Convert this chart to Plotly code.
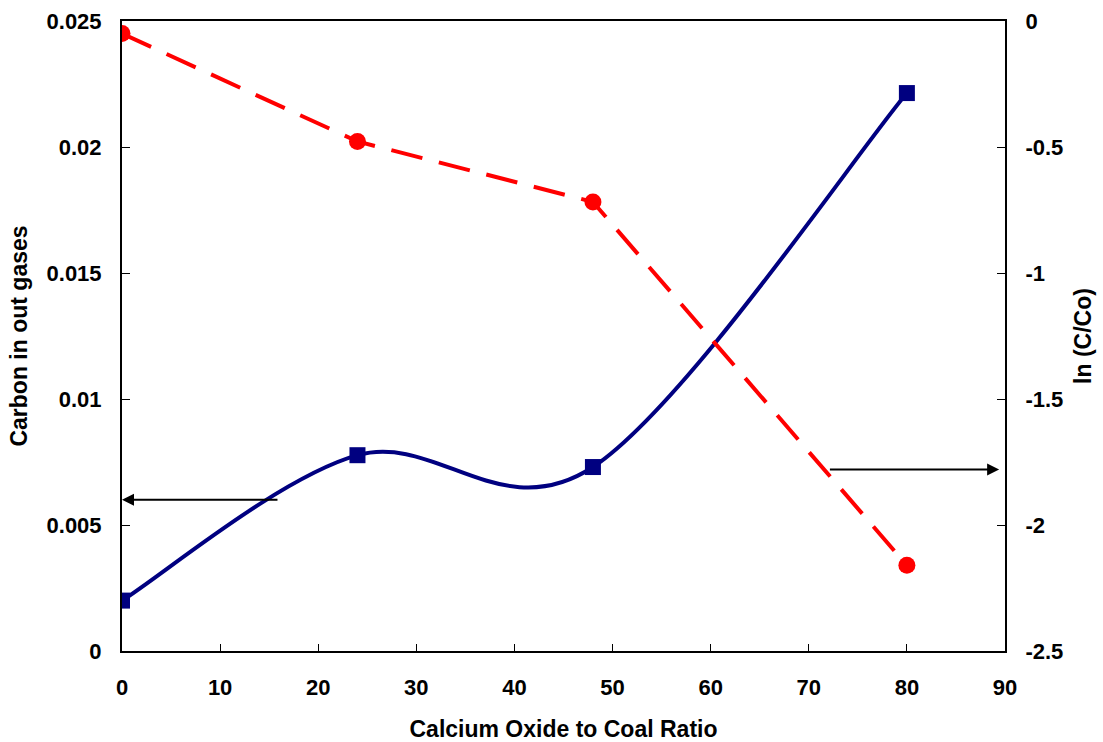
import plotly.graph_objects as go

ratio = [0, 24, 48, 80]
carbon_out = [0.0020, 0.00777, 0.0073, 0.02214]
ln_c_co = [-0.05, -0.478, -0.718, -2.16]

x_ticks = [0, 10, 20, 30, 40, 50, 60, 70, 80, 90]
left_ticks = [0, 0.005, 0.01, 0.015, 0.02, 0.025]
left_labels = ["0", "0.005", "0.01", "0.015", "0.02", "0.025"]
right_ticks = [-2.5, -2, -1.5, -1, -0.5, 0]
right_labels = ["-2.5", "-2", "-1.5", "-1", "-0.5", "0"]

FONT = "Liberation Sans, Arial, sans-serif"
BLUE = "#000080"
RED = "#FF0000"


def smooth_path(xs, ys):
    """Excel-style smoothed line: cubic Bezier through the data points,
    control points from neighbouring points (tension 1/6), in data units."""
    n = len(xs)
    parts = [f"M {xs[0]},{ys[0]}"]
    for i in range(n - 1):
        p = max(i - 1, 0)
        q = min(i + 2, n - 1)
        c1x = xs[i] + (xs[i + 1] - xs[p]) / 6
        c1y = ys[i] + (ys[i + 1] - ys[p]) / 6
        c2x = xs[i + 1] - (xs[q] - xs[i]) / 6
        c2y = ys[i + 1] - (ys[q] - ys[i]) / 6
        parts.append(f"C {c1x},{c1y} {c2x},{c2y} {xs[i + 1]},{ys[i + 1]}")
    return " ".join(parts)


fig = go.Figure()

# smoothed blue line (drawn on the left axis scale)
fig.add_shape(type="path", path=smooth_path(ratio, carbon_out),
              xref="x", yref="y", layer="below",
              line=dict(color=BLUE, width=4))

fig.add_trace(go.Scatter(
    x=ratio, y=carbon_out, mode="markers",
    marker=dict(symbol="square", size=16, color=BLUE),
    yaxis="y", showlegend=False))
fig.add_trace(go.Scatter(
    x=ratio, y=ln_c_co, mode="lines+markers",
    line=dict(color=RED, width=4, dash="32px,17px"),
    marker=dict(symbol="circle", size=17, color=RED),
    yaxis="y2", showlegend=False))

fig.add_annotation(x=0, y=0.006, ax=16, ay=0.006, xref="x", yref="y",
                   axref="x", ayref="y", showarrow=True, arrowhead=2,
                   arrowsize=1.2, arrowwidth=2, arrowcolor="black", text="")
fig.add_annotation(x=89.4, y=-1.78, ax=72, ay=-1.78, xref="x", yref="y2",
                   axref="x", ayref="y2", showarrow=True, arrowhead=2,
                   arrowsize=1.2, arrowwidth=2, arrowcolor="black", text="")

tickfont = dict(family=FONT, size=22, color="black")
titlefont = dict(family=FONT, size=23, color="black")


def b(s):
    return f"<b>{s}</b>"


fig.update_layout(
    width=1103, height=742,
    margin=dict(l=122, r=98, t=21, b=91),
    paper_bgcolor="white", plot_bgcolor="white",
    xaxis=dict(range=[0, 90], tickvals=x_ticks, ticktext=[b(v) for v in x_ticks],
               ticks="inside", ticklen=7, automargin=False,
               tickcolor="black", showline=True, linecolor="black", linewidth=2,
               mirror=True, showgrid=False, zeroline=False, tickfont=tickfont,
               ticklabelstandoff=16,
               title=dict(text=b("Calcium Oxide to Coal Ratio"), font=titlefont, standoff=22)),
    yaxis=dict(range=[0, 0.025], tickvals=left_ticks, ticktext=[b(t) for t in left_labels],
               ticks="inside", ticklen=8, tickcolor="black", showline=True, automargin=False,
               linecolor="black", linewidth=2, showgrid=False, zeroline=False,
               tickfont=tickfont, ticklabelstandoff=14,
               title=dict(text=b("Carbon in out gases"), font=titlefont, standoff=12)),
    yaxis2=dict(range=[-2.5, 0], tickvals=right_ticks, ticktext=[b(t) for t in right_labels],
                overlaying="y", side="right", ticks="inside", ticklen=8, automargin=False,
                tickcolor="black", showline=True, linecolor="black", linewidth=2,
                showgrid=False, zeroline=False, tickfont=tickfont,
                ticklabelstandoff=14,
                title=dict(text=b("ln (C/Co)"), font=titlefont, standoff=13)),
)

fig.write_html("out.html")
